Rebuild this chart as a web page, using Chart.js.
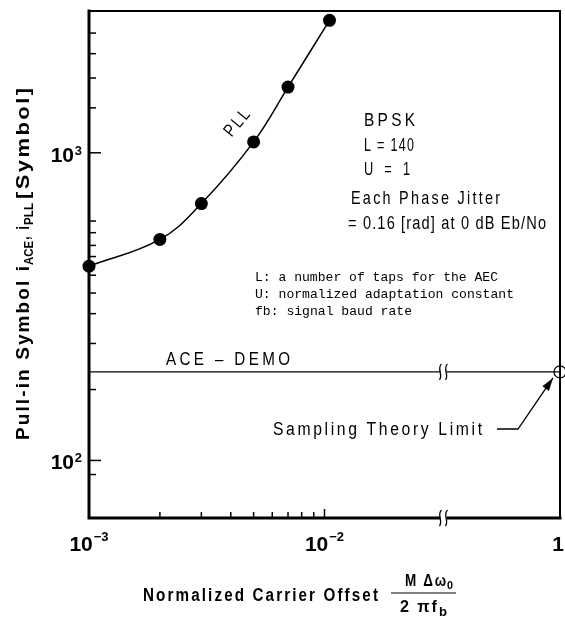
<!DOCTYPE html>
<html>
<head>
<meta charset="utf-8">
<script src="https://cdn.jsdelivr.net/npm/chart.js@4.4.1/dist/chart.umd.min.js"></script>
<style>
  html, body { margin: 0; padding: 0; background: #fff; }
</style>
</head>
<body>
<canvas id="pullInChart" width="565" height="618"></canvas>
<script>
// PLL pull-in (symbols) vs normalized carrier offset
var pllOffset  = [0.001, 0.002, 0.003, 0.005, 0.007, 0.0105];
var pllSymbols = [428, 523, 684, 1085, 1635, 2695];

// ACE-DEMO is flat out to the sampling theory limit
var aceOffset  = [0.001, 1];
var aceSymbols = [194, 194];
var limitOffset  = [1];
var limitSymbols = [194];

// x axis is broken between 10^-1.5 and 1
var xBreak = 0.032;
var xTickValues = [0.001, 0.01, 1];
var xTickBase   = ['10', '10', '1'];
var xTickExp    = ['\u22123', '\u22122', ''];
var xMinorTicks = [0.002, 0.003, 0.004, 0.005, 0.006, 0.007, 0.008, 0.009];

var yTickValues = [100, 1000];
var yTickExp    = ['2', '3'];
var yMinorTicks = [90, 170, 240, 300, 350, 400, 460, 500, 550, 600, 1400, 1750, 2100, 2450];

var SANS = '"Liberation Sans", Arial, sans-serif';
var MONO = '"Liberation Mono", "DejaVu Sans Mono", monospace';

// log position with the part past the break squeezed in
function xPos(v) {
    var l = Math.log10(v), b = Math.log10(xBreak);
    if (l <= b) return l;
    return b + (l - b) * (-1 - b) / (0 - b);
}

function pts(xs, ys) {
    return xs.map(function(x, i) { return {x: xPos(x), y: ys[i]}; });
}

function txt(ctx, s, x, y, font, spacing, align) {
    ctx.font = font;
    ctx.letterSpacing = (spacing || 0) + 'px';
    ctx.textAlign = align || 'left';
    ctx.fillText(s, x, y);
    return ctx.measureText(s).width;
}

// condensed text: squeeze horizontally to the width it has in the figure
function fit(ctx, s, x, y, font, spacing, width) {
    ctx.font = font;
    ctx.letterSpacing = (spacing || 0) + 'px';
    ctx.textAlign = 'left';
    var w = ctx.measureText(s).width - (spacing || 0);
    ctx.save();
    ctx.translate(x, y);
    ctx.scale(width / w, 1);
    ctx.fillText(s, 0, 0);
    ctx.restore();
    return width;
}

function breakMark(ctx, x, y) {
    ctx.save();
    ctx.fillStyle = '#fff';
    ctx.fillRect(x - 3, y - 4, 6, 8);
    ctx.strokeStyle = '#000';
    ctx.lineWidth = 1.3;
    [-3, 3].forEach(function(dx) {
        ctx.beginPath();
        ctx.moveTo(x + dx + 1, y - 8);
        ctx.bezierCurveTo(x + dx - 4, y - 3, x + dx + 3, y + 3, x + dx - 1, y + 8);
        ctx.stroke();
    });
    ctx.restore();
}

var decor = {
    id: 'decor',
    beforeDatasetsDraw: function(chart) {
        var ctx = chart.ctx, a = chart.chartArea;
        var xs = chart.scales.x, ys = chart.scales.y;
        ctx.save();
        ctx.strokeStyle = '#000';
        ctx.fillStyle = '#000';
        ctx.lineCap = 'square';

        // frame
        ctx.lineWidth = 2;
        ctx.beginPath();
        ctx.moveTo(a.left, a.top); ctx.lineTo(a.right, a.top); ctx.lineTo(a.right, a.bottom);
        ctx.stroke();
        ctx.lineWidth = 3;
        ctx.beginPath();
        ctx.moveTo(a.left, a.top); ctx.lineTo(a.left, a.bottom); ctx.lineTo(a.right, a.bottom);
        ctx.stroke();

        // inward ticks
        ctx.lineWidth = 1.5;
        ctx.lineCap = 'butt';
        xMinorTicks.forEach(function(v) {
            var px = xs.getPixelForValue(xPos(v));
            ctx.beginPath(); ctx.moveTo(px, a.bottom); ctx.lineTo(px, a.bottom - 6); ctx.stroke();
        });
        [0.01].forEach(function(v) {
            var px = xs.getPixelForValue(xPos(v));
            ctx.beginPath(); ctx.moveTo(px, a.bottom); ctx.lineTo(px, a.bottom - 9); ctx.stroke();
        });
        yMinorTicks.forEach(function(v) {
            var py = ys.getPixelForValue(v);
            ctx.beginPath(); ctx.moveTo(a.left, py); ctx.lineTo(a.left + 7, py); ctx.stroke();
        });
        yTickValues.forEach(function(v) {
            var py = ys.getPixelForValue(v);
            ctx.beginPath(); ctx.moveTo(a.left, py); ctx.lineTo(a.left + 12, py); ctx.stroke();
        });

        // tick labels
        ctx.textBaseline = 'alphabetic';
        var tf = 'bold 21px ' + SANS, ef = 'bold 13px ' + SANS;
        xTickValues.forEach(function(v, i) {
            var px = xs.getPixelForValue(xPos(v));
            ctx.letterSpacing = '0px';
            ctx.font = tf;
            var wb = ctx.measureText(xTickBase[i]).width;
            ctx.font = ef;
            var we = xTickExp[i] ? ctx.measureText(xTickExp[i]).width + 1 : 0;
            var x0 = Math.min(px - (wb + we) / 2, 564 - wb - we);
            txt(ctx, xTickBase[i], x0, a.bottom + 33, tf);
            if (xTickExp[i]) txt(ctx, xTickExp[i], x0 + wb + 1, a.bottom + 23, ef);
        });
        yTickValues.forEach(function(v, i) {
            var py = ys.getPixelForValue(v);
            txt(ctx, yTickExp[i], 82, py + 2, ef, 0, 'right');
            txt(ctx, '10', 74, py + 9, tf, 0, 'right');
        });

        // y title (rotated, subscripts toward the axis)
        ctx.save();
        ctx.translate(29, 0);
        ctx.rotate(-Math.PI / 2);
        var big = 'bold 18px ' + SANS, small = 'bold 12px ' + SANS;
        var cy = -440;
        cy += fit(ctx, 'Pull-in Symbol i', cy, 0, big, 2, 174) + 1;
        cy += fit(ctx, 'ACE', cy, 4, small, 0, 24) + 1;
        cy += fit(ctx, ', i', cy, 0, big, 2, 14) + 1;
        cy += fit(ctx, 'PLL', cy, 4, small, 0, 22) + 4;
        fit(ctx, '[Symbol]', cy, 0, big, 2, 352 - (cy + 440));
        ctx.restore();

        // x title with fraction
        fit(ctx, 'Normalized Carrier Offset', 143, 601, 'bold 18px ' + SANS, 2.5, 235);
        ctx.lineWidth = 1.2;
        ctx.beginPath(); ctx.moveTo(391, 593); ctx.lineTo(456, 593); ctx.stroke();
        fit(ctx, 'M \u0394\u03c9', 405, 586, 'bold 16px ' + SANS, 2, 41);
        fit(ctx, '0', 447, 589, 'bold 11px ' + SANS, 0, 6);
        fit(ctx, '2 \u03c0f', 400, 612, 'bold 17px ' + SANS, 2, 37);
        fit(ctx, 'b', 439, 616, 'bold 13px ' + SANS, 0, 8);
        ctx.restore();
    },
    afterDatasetsDraw: function(chart) {
        var ctx = chart.ctx, a = chart.chartArea;
        var xs = chart.scales.x, ys = chart.scales.y;
        var bx = xs.getPixelForValue(xPos(xBreak));
        breakMark(ctx, bx, a.bottom);
        breakMark(ctx, bx, ys.getPixelForValue(aceSymbols[0]));

        ctx.save();
        ctx.fillStyle = '#000';
        ctx.strokeStyle = '#000';
        ctx.textBaseline = 'alphabetic';

        // PLL label along the curve
        ctx.save();
        ctx.translate(227, 134);
        ctx.rotate(-50 * Math.PI / 180);
        fit(ctx, 'PLL', 0, 6, '18px ' + SANS, 3, 30);
        ctx.restore();

        var f = '19px ' + SANS;
        fit(ctx, 'BPSK', 364, 126, f, 4, 51);
        fit(ctx, 'L = 140', 364, 151, f, 2, 50);
        fit(ctx, 'U  =  1', 364, 175, f, 2, 46);
        fit(ctx, 'Each Phase Jitter', 351, 204, f, 3, 149);
        fit(ctx, '= 0.16 [rad] at 0 dB Eb/No', 348, 229, f, 1.5, 198);

        var m = '13px ' + MONO;
        fit(ctx, 'L: a number of taps for the AEC', 255, 281, m, 0, 243);
        fit(ctx, 'U: normalized adaptation constant', 255, 298, m, 0, 259);
        fit(ctx, 'fb: signal baud rate', 255, 315, m, 0, 157);

        fit(ctx, 'ACE \u2013 DEMO', 166, 365, '18px ' + SANS, 4, 124);
        fit(ctx, 'Sampling Theory Limit', 273, 435, '18px ' + SANS, 3, 209);

        // arrow to the limit point
        var tx = xs.getPixelForValue(xPos(limitOffset[0])) - 7;
        var ty = ys.getPixelForValue(limitSymbols[0]) + 6;
        ctx.lineWidth = 1.3;
        ctx.beginPath();
        ctx.moveTo(497, 429); ctx.lineTo(518, 429); ctx.lineTo(tx, ty);
        ctx.stroke();
        var ang = Math.atan2(ty - 429, tx - 518);
        ctx.beginPath();
        ctx.moveTo(tx, ty);
        ctx.lineTo(tx - 13 * Math.cos(ang) + 4 * Math.sin(ang), ty - 13 * Math.sin(ang) - 4 * Math.cos(ang));
        ctx.lineTo(tx - 13 * Math.cos(ang) - 4 * Math.sin(ang), ty - 13 * Math.sin(ang) + 4 * Math.cos(ang));
        ctx.closePath();
        ctx.fill();
        ctx.restore();
    }
};

var myChart = new Chart(document.getElementById('pullInChart'), {
    type: 'line',
    data: {
        datasets: [
            {
                label: 'PLL',
                data: pts(pllOffset, pllSymbols),
                borderColor: '#000',
                borderWidth: 1.5,
                pointRadius: 6.5,
                pointBackgroundColor: '#000',
                pointBorderWidth: 0,
                tension: 0.4,
                clip: false
            },
            {
                label: 'ACE - DEMO',
                data: pts(aceOffset, aceSymbols),
                borderColor: '#000',
                borderWidth: 1.2,
                pointRadius: 0,
                clip: false
            },
            {
                label: 'Sampling Theory Limit',
                data: pts(limitOffset, limitSymbols),
                showLine: false,
                pointRadius: 6,
                pointBorderColor: '#000',
                pointBackgroundColor: 'rgba(0,0,0,0)',
                pointBorderWidth: 1.3,
                clip: false
            }
        ]
    },
    options: {
        responsive: false,
        animation: false,
        events: [],
        layout: { autoPadding: false, padding: { top: 11, right: 5, left: 0, bottom: 0 } },
        plugins: { legend: { display: false }, tooltip: { enabled: false } },
        scales: {
            x: {
                type: 'linear', min: -3, max: -1,
                ticks: { display: false }, grid: { display: false }, border: { display: false },
                afterFit: function(s) { s.height = 100; }
            },
            y: {
                type: 'logarithmic', min: 65, max: 2890,
                ticks: { display: false }, grid: { display: false }, border: { display: false },
                afterFit: function(s) { s.width = 89; }
            }
        }
    },
    plugins: [decor]
});
</script>
</body>
</html>
